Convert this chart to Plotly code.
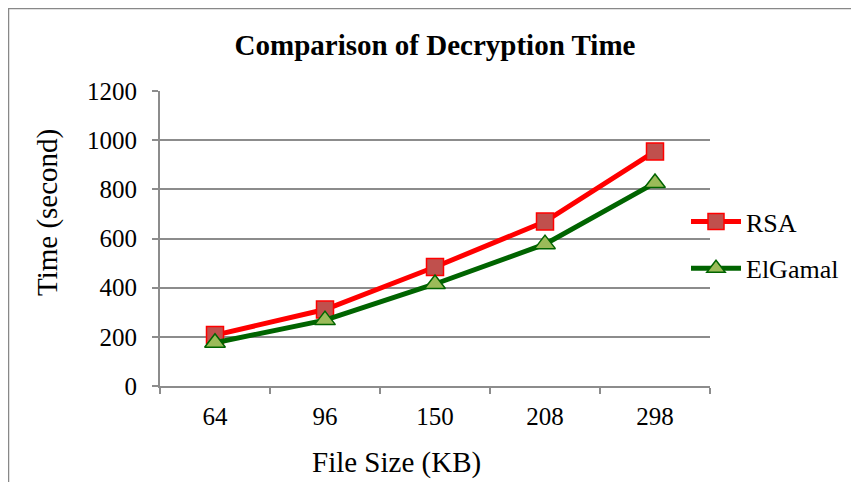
import plotly.graph_objects as go

categories = ["64", "96", "150", "208", "298"]
rsa = [207, 311, 484, 669, 954]
elgamal = [176, 268, 415, 577, 826]
y_ticks = [0, 200, 400, 600, 800, 1000, 1200]

FONT = "Liberation Serif, Times New Roman, serif"
GRID = "#8c8c8c"

fig = go.Figure()
fig.add_trace(go.Scatter(
    x=categories, y=rsa, name="RSA", mode="lines+markers", legendgroup="a",
    line=dict(color="#FF0000", width=5),
    marker=dict(symbol="square", size=17, color="#C0504D",
                line=dict(color="#FF0000", width=1.5)),
))
fig.add_trace(go.Scatter(
    x=categories, y=elgamal, name="ElGamal", mode="lines+markers", legendgroup="b",
    line=dict(color="#006400", width=5),
    marker=dict(symbol="triangle-up", size=18, color="#9BBB59",
                line=dict(color="#006400", width=1.5)),
))

L, R, T, B = 152, 157, 83, 104
W, H = 859, 482
PW, PH = W - L - R, H - T - B

fig.update_layout(
    width=W, height=H,
    margin=dict(l=L, r=R, t=T, b=B),
    paper_bgcolor="white", plot_bgcolor="white",
    font=dict(family=FONT, color="black", size=25),
    title=dict(text="<b>Comparison of Decryption Time</b>",
               x=427 / W, xanchor="center", y=1 - 37 / H, yanchor="middle",
               font=dict(family=FONT, size=29, color="black")),
    legend=dict(x=(678 - L) / PW, xanchor="left", y=(378 - 237) / PH, yanchor="middle",
                font=dict(family=FONT, size=26), tracegroupgap=10, itemwidth=50,
                bgcolor="rgba(0,0,0,0)"),
    showlegend=True,
)
fig.update_xaxes(
    type="category", range=[-0.5, 4.5], tickson="boundaries",
    showline=True, linecolor=GRID, linewidth=2,
    ticks="outside", ticklen=6, tickcolor=GRID, tickwidth=2,
    showgrid=False, tickfont=dict(family=FONT, size=25), ticklabelstandoff=7,
)
fig.update_yaxes(
    range=[0, 1200], tickvals=y_ticks,
    showline=True, linecolor=GRID, linewidth=2,
    ticks="outside", ticklen=6, tickcolor=GRID, tickwidth=2,
    showgrid=True, gridcolor=GRID, gridwidth=1.5, zeroline=False,
    tickfont=dict(family=FONT, size=25), ticklabelstandoff=10,
)

# axis titles
fig.add_annotation(text="File Size (KB)", xref="paper", yref="paper",
                   x=(388 - L) / PW, y=(378 - 454) / PH, showarrow=False,
                   xanchor="center", yanchor="middle",
                   font=dict(family=FONT, size=29, color="black"))
fig.add_annotation(text="Time (second)", xref="paper", yref="paper",
                   x=(39 - L) / PW, y=(378 - 205) / PH, showarrow=False,
                   textangle=-90, xanchor="center", yanchor="middle",
                   font=dict(family=FONT, size=29, color="black"))

# chart border
fig.add_shape(type="rect", xref="paper", yref="paper",
              x0=(0.5 - L) / PW, x1=(849 - L) / PW,
              y0=-1.0, y1=(378 - 0.5) / PH,
              line=dict(color="#888888", width=1.5), layer="below")

fig.write_html("out.html")
